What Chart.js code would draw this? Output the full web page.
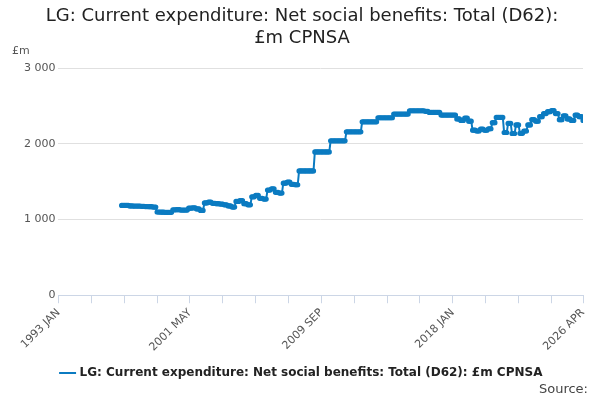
<!DOCTYPE html>
<html>
<head>
<meta charset="utf-8">
<script src="https://cdn.jsdelivr.net/npm/chart.js@4"></script>
<style>
  body { margin: 0; font-family: "DejaVu Sans", sans-serif; }
  #wrap { position: relative; width: 600px; height: 400px; }
  #unit { position: absolute; left: 12px; top: 44px; font-size: 11px; color: #555; }
  #source { position: absolute; right: 12px; bottom: 4px; font-size: 13px; color: #444; }
</style>
</head>
<body>
<div id="wrap">
  <canvas id="myChart" width="600" height="400"></canvas>
  <div id="unit">£m</div>
  <div id="source">Source:</div>
</div>
<script>
"use strict";
// months counted from 1993 JAN; series starts 1997 JAN
const startMonth = 48;
const monthNames = ["JAN", "FEB", "MAR", "APR", "MAY", "JUN", "JUL", "AUG", "SEP", "OCT", "NOV", "DEC"];
// quarterly levels (value held for each month of the quarter), 1997 Q1 .. 2026 Q1
const quarterValues = [
  1186, 1186, 1180, 1178,
  1178, 1175, 1172, 1170,
  1165, 1100, 1097, 1095,
  1095, 1128, 1130, 1125,
  1125, 1150, 1155, 1140,
  1120, 1220, 1230, 1215,
  1210, 1205, 1195, 1180,
  1165, 1240, 1250, 1210,
  1195, 1300, 1320, 1280,
  1270, 1390, 1407, 1360,
  1350, 1480, 1496, 1465,
  1460, 1642, 1642, 1642,
  1642, 1894, 1894, 1894,
  1894, 2040, 2040, 2040,
  2040, 2159, 2159, 2159,
  2159, 2292, 2292, 2292,
  2292, 2345, 2345, 2345,
  2345, 2394, 2394, 2394,
  2394, 2438, 2438, 2438,
  2438, 2430, 2416, 2416,
  2416, 2380, 2380, 2380,
  2380, 2330, 2310, 2340,
  2300, 2181, 2170, 2195,
  2180, 2200, 2280, 2350,
  2350, 2150, 2270, 2137,
  2250, 2140, 2170, 2250,
  2320, 2300, 2360, 2400,
  2425, 2440, 2400, 2320,
  2370, 2330, 2310, 2380,
  2360,
];
const lastValue = 2310; // 2026 APR
const xTicks = [0, 25, 50, 75, 100, 125, 150, 175, 200, 225, 250, 275, 300, 325, 350, 375, 399];
const yTicks = [0, 1000, 2000, 3000];

function monthLabel(i) {
  return (1993 + Math.floor(i / 12)) + " " + monthNames[i % 12];
}

const points = [];
quarterValues.forEach((v, q) => {
  for (let m = 0; m < 3; m++) points.push({ x: startMonth + q * 3 + m, y: v });
});
points.push({ x: startMonth + quarterValues.length * 3, y: lastValue });

const ctx = document.getElementById("myChart").getContext("2d");
const myChart = new Chart(ctx, {
  type: "line",
  data: {
    datasets: [
      {
        label: "LG: Current expenditure: Net social benefits: Total (D62): £m CPNSA",
        data: points,
        borderColor: "#0b7bc1",
        backgroundColor: "#0b7bc1",
        borderWidth: 2,
        pointRadius: 1.6,
        pointHoverRadius: 3,
        tension: 0,
      },
    ],
  },
  options: {
    responsive: false,
    animation: false,
    layout: { padding: { left: 21, right: 17, bottom: 11 } },
    plugins: {
      title: {
        display: true,
        text: ["LG: Current expenditure: Net social benefits: Total (D62):", "£m CPNSA"],
        color: "#222",
        font: { family: "DejaVu Sans", size: 18, weight: "normal" },
        padding: { top: 6, bottom: 19 },
      },
      legend: {
        position: "bottom",
        labels: {
          usePointStyle: true,
          pointStyle: "line",
          color: "#222",
          font: { family: "DejaVu Sans", size: 12, weight: "bold" },
          boxWidth: 24,
        },
      },
    },
    scales: {
      x: {
        type: "linear",
        min: 0,
        max: 399,
        afterBuildTicks: (axis) => { axis.ticks = xTicks.map((v) => ({ value: v })); },
        ticks: {
          autoSkip: false,
          maxRotation: 45,
          minRotation: 45,
          color: "#555",
          font: { family: "DejaVu Sans", size: 11 },
          callback: (v) => (v % 100 === 0 || v === 399 ? monthLabel(v) : ""),
        },
        grid: { drawOnChartArea: false, tickLength: 8, color: "#ccd6e6" },
        border: { color: "#ccd6e6" },
      },
      y: {
        min: 0,
        max: 3000,
        afterBuildTicks: (axis) => { axis.ticks = yTicks.map((v) => ({ value: v })); },
        ticks: {
          color: "#555",
          font: { family: "DejaVu Sans", size: 11 },
          callback: (v) => String(v).replace(/\B(?=(\d{3})+(?!\d))/g, " "),
        },
        grid: { color: "#e0e0e0", drawTicks: false },
        border: { display: false },
      },
    },
  },
});
</script>
</body>
</html>
